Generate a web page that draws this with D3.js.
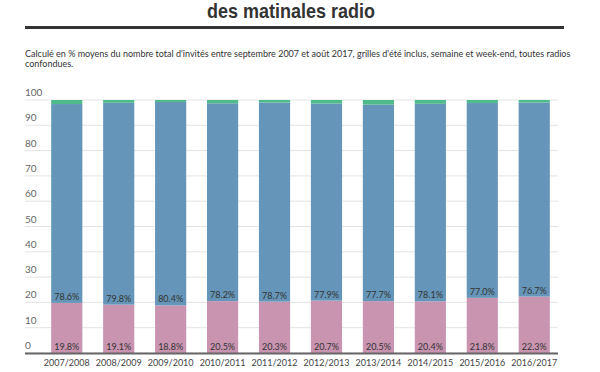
<!DOCTYPE html>
<meta charset="utf-8">
<script src="https://d3js.org/d3.v7.min.js"></script>
<style>
  body { margin: 0; background: #fff; }
</style>
<div id="my_dataviz"></div>
<script>
// saisons
var seasons = ["2007/2008", "2008/2009", "2009/2010", "2010/2011", "2011/2012",
  "2012/2013", "2013/2014", "2014/2015", "2015/2016", "2016/2017"];
// % femmes (pink, bottom)
var women = [19.8, 19.1, 18.8, 20.5, 20.3, 20.7, 20.5, 20.4, 21.8, 22.3];
// % hommes (blue, middle)
var men = [78.6, 79.8, 80.4, 78.2, 78.7, 77.9, 77.7, 78.1, 77.0, 76.7];
// reste (green, top)
var other = [1.6, 1.1, 0.8, 1.3, 1.0, 1.4, 1.8, 1.5, 1.2, 1.0];
var yTicks = [0, 10, 20, 30, 40, 50, 60, 70, 80, 90, 100];

var width = 600, height = 372;

var svg = d3.select("#my_dataviz")
  .append("svg")
    .attr("width", width)
    .attr("height", height)
    .style("font-family", "Lato, 'Open Sans', sans-serif");

// title + rule
svg.append("text")
  .attr("x", 207).attr("y", 18)
  .attr("font-family", "'Liberation Sans', sans-serif")
  .attr("font-weight", "bold")
  .attr("font-size", 21)
  .attr("textLength", 168)
  .attr("lengthAdjust", "spacingAndGlyphs")
  .attr("fill", "#333")
  .text("des matinales radio");

svg.append("rect")
  .attr("x", 25).attr("y", 26)
  .attr("width", 539).attr("height", 3)
  .attr("fill", "#333");

var sub = svg.append("text")
  .attr("font-size", 9)
  .attr("fill", "#333");
sub.append("tspan").attr("x", 25).attr("y", 57)
  .text("Calculé en % moyens du nombre total d'invités entre septembre 2007 et août 2017, grilles d'été inclus, semaine et week-end, toutes radios");
sub.append("tspan").attr("x", 25).attr("y", 67)
  .text("confondues.");

var x = d3.scaleBand()
  .domain(seasons)
  .range([33, 568])
  .paddingInner(0.4)
  .paddingOuter(0.35);

var y = d3.scaleLinear()
  .domain([0, 100])
  .range([353, 100]);

// gridlines
svg.append("g")
  .selectAll("line")
  .data(yTicks)
  .enter().append("line")
    .attr("x1", 25).attr("x2", 558)
    .attr("y1", function(d) { return y(d); })
    .attr("y2", function(d) { return y(d); })
    .attr("stroke", "#e3e3e3")
    .attr("stroke-width", 1);

svg.append("g")
  .selectAll("text")
  .data(yTicks)
  .enter().append("text")
    .attr("x", 25)
    .attr("y", function(d) { return y(d) - 4; })
    .attr("font-size", 10)
    .attr("fill", "#666")
    .text(function(d) { return d; });

var rows = seasons.map(function(s, i) {
  return { season: s, women: women[i], men: men[i], other: other[i] };
});

var stack = d3.stack().keys(["women", "men", "other"]);
var series = stack(rows);
var color = d3.scaleOrdinal()
  .domain(["women", "men", "other"])
  .range(["#c994b0", "#6596b9", "#4fbb8b"]);

svg.append("g")
  .selectAll("g")
  .data(series)
  .enter().append("g")
    .attr("fill", function(d) { return color(d.key); })
  .selectAll("rect")
  .data(function(d) { return d; })
  .enter().append("rect")
    .attr("x", function(d) { return x(d.data.season); })
    .attr("width", x.bandwidth())
    .attr("y", function(d) { return y(d[1]); })
    .attr("height", function(d) { return y(d[0]) - y(d[1]); });

// baseline
svg.append("line")
  .attr("x1", 25).attr("x2", 558)
  .attr("y1", y(0) + 0.5).attr("y2", y(0) + 0.5)
  .attr("stroke", "#666")
  .attr("stroke-width", 2);

// value labels
var labels = svg.append("g")
  .attr("font-size", 9)
  .attr("fill", "#333")
  .attr("text-anchor", "middle");

labels.selectAll(".w")
  .data(rows)
  .enter().append("text")
    .attr("x", function(d) { return x(d.season) + x.bandwidth() / 2; })
    .attr("y", y(0) - 3)
    .text(function(d) { return d.women.toFixed(1) + "%"; });

labels.selectAll(".m")
  .data(rows)
  .enter().append("text")
    .attr("x", function(d) { return x(d.season) + x.bandwidth() / 2; })
    .attr("y", function(d) { return y(d.women) - 3; })
    .text(function(d) { return d.men.toFixed(1) + "%"; });

// x labels
svg.append("g")
  .selectAll("text")
  .data(seasons)
  .enter().append("text")
    .attr("x", function(d) { return x(d) + x.bandwidth() / 2; })
    .attr("y", 366)
    .attr("text-anchor", "middle")
    .attr("font-size", 9)
    .attr("fill", "#444")
    .text(function(d) { return d; });
</script>
